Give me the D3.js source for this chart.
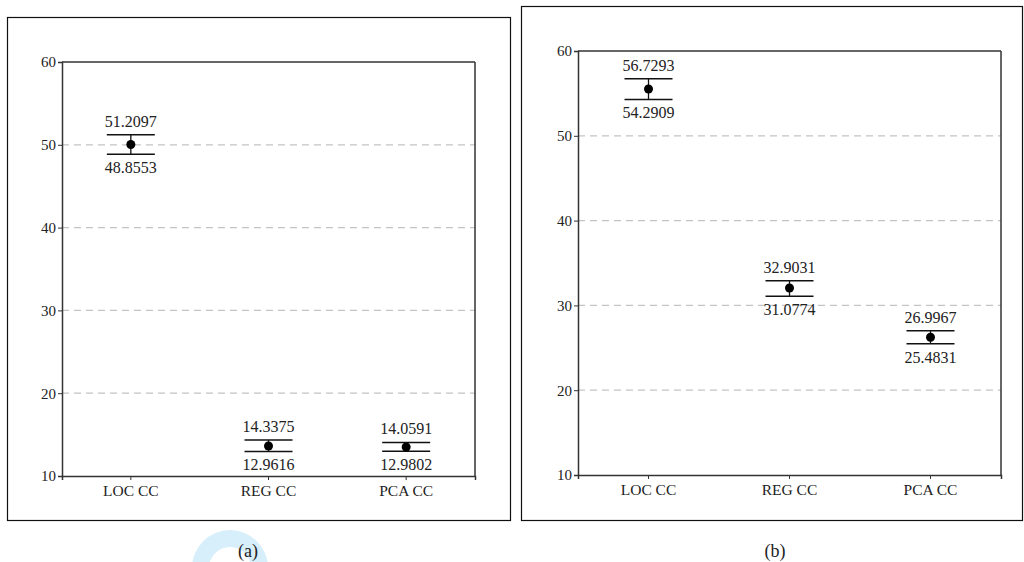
<!DOCTYPE html>
<html><head><meta charset="utf-8">
<script src="https://cdn.jsdelivr.net/npm/d3@7"></script>
<style>body{margin:0;background:#fff}svg{display:block}</style>
</head><body>
<svg id="c" width="1024" height="562"></svg>
<script>
const categories = ["LOC CC", "REG CC", "PCA CC"];
const yTicks = [10, 20, 30, 40, 50, 60];
// panel (a)
const meanA = [50.03, 13.62, 13.50];
const upperA = [51.2097, 14.3375, 14.0591];
const lowerA = [48.8553, 12.9616, 12.9802];
// panel (b)
const meanB = [55.52, 32.05, 26.25];
const upperB = [56.7293, 32.9031, 26.9967];
const lowerB = [54.2909, 31.0774, 25.4831];
const panelLabels = ["(a)", "(b)"];

const svg = d3.select("#c");
const font = "'Liberation Serif', 'DejaVu Serif', serif";

// watermark arc
svg.append("path")
  .attr("transform", "translate(230,568)")
  .attr("d", d3.arc()({innerRadius: 21, outerRadius: 38, startAngle: 0, endAngle: 2*Math.PI}))
  .attr("fill", "#d7effb");

function panel(box, plot, mean, upper, lower, label, labelX) {
  svg.append("rect").attr("x", box.x + 0.5).attr("y", box.y + 0.5)
    .attr("width", box.w).attr("height", box.h)
    .attr("fill", "none").attr("stroke", "#111").attr("stroke-width", 1.2);

  const x = d3.scaleBand().domain(categories).range([plot.x0, plot.x1]);
  const y = d3.scaleLinear().domain([10, 60]).range([plot.y1, plot.y0]);
  const g = svg.append("g");

  g.selectAll(".grid").data(yTicks.filter(t => t > 10 && t < 60)).join("line")
    .attr("x1", plot.x0).attr("x2", plot.x1)
    .attr("y1", d => y(d)).attr("y2", d => y(d))
    .attr("stroke", "#c4c4c4").attr("stroke-dasharray", "7,5").attr("stroke-width", 1.2);

  g.append("line").attr("x1", plot.x0).attr("x2", plot.x1).attr("y1", plot.y0).attr("y2", plot.y0)
    .attr("stroke", "#333").attr("stroke-width", 1.5);
  g.append("line").attr("x1", plot.x1).attr("x2", plot.x1).attr("y1", plot.y0).attr("y2", plot.y1)
    .attr("stroke", "#333").attr("stroke-width", 1.5);

  const ya = g.append("g").attr("transform", `translate(${plot.x0},0)`)
    .call(d3.axisLeft(y).tickValues(yTicks).tickSize(4).tickPadding(2).tickFormat(d3.format("d")));
  const xa = g.append("g").attr("transform", `translate(0,${plot.y1})`)
    .call(d3.axisBottom(x).tickSize(4).tickPadding(5));
  [ya, xa].forEach(a => {
    a.select(".domain").attr("stroke", "#333").attr("stroke-width", 1.5);
    a.selectAll(".tick line").attr("stroke", "#333");
    a.selectAll("text").attr("font-family", font).attr("font-size", 15).attr("fill", "#222");
  });
  xa.selectAll("text").attr("font-size", 15.5);

  const half = 24;
  const idx = d3.range(categories.length);
  const cx = i => x(categories[i]) + x.bandwidth() / 2;
  g.selectAll(".stem").data(idx).join("line")
    .attr("x1", cx).attr("x2", cx).attr("y1", i => y(upper[i])).attr("y2", i => y(lower[i]))
    .attr("stroke", "#111").attr("stroke-width", 1.3);
  g.selectAll(".capU").data(idx).join("line")
    .attr("x1", i => cx(i) - half).attr("x2", i => cx(i) + half)
    .attr("y1", i => y(upper[i])).attr("y2", i => y(upper[i]))
    .attr("stroke", "#111").attr("stroke-width", 1.5);
  g.selectAll(".capL").data(idx).join("line")
    .attr("x1", i => cx(i) - half).attr("x2", i => cx(i) + half)
    .attr("y1", i => y(lower[i])).attr("y2", i => y(lower[i]))
    .attr("stroke", "#111").attr("stroke-width", 1.5);
  g.selectAll(".pt").data(idx).join("circle")
    .attr("cx", cx).attr("cy", i => y(mean[i])).attr("r", 4.5).attr("fill", "#000");
  g.selectAll(".lu").data(idx).join("text")
    .attr("x", cx).attr("y", i => y(upper[i]) - 8).attr("text-anchor", "middle")
    .attr("font-family", font).attr("font-size", 16).attr("fill", "#222")
    .text(i => upper[i].toFixed(4));
  g.selectAll(".ll").data(idx).join("text")
    .attr("x", cx).attr("y", i => y(lower[i]) + 19).attr("text-anchor", "middle")
    .attr("font-family", font).attr("font-size", 16).attr("fill", "#222")
    .text(i => lower[i].toFixed(4));

  svg.append("text").attr("x", labelX).attr("y", 557).attr("text-anchor", "middle")
    .attr("font-family", font).attr("font-size", 18).attr("fill", "#222").text(label);
}

panel({x: 7, y: 17, w: 503, h: 503}, {x0: 62, x1: 475, y0: 62, y1: 476}, meanA, upperA, lowerA, panelLabels[0], 248);
panel({x: 521, y: 6, w: 501, h: 514}, {x0: 578, x1: 1001, y0: 51, y1: 475}, meanB, upperB, lowerB, panelLabels[1], 775);
</script>
</body></html>
